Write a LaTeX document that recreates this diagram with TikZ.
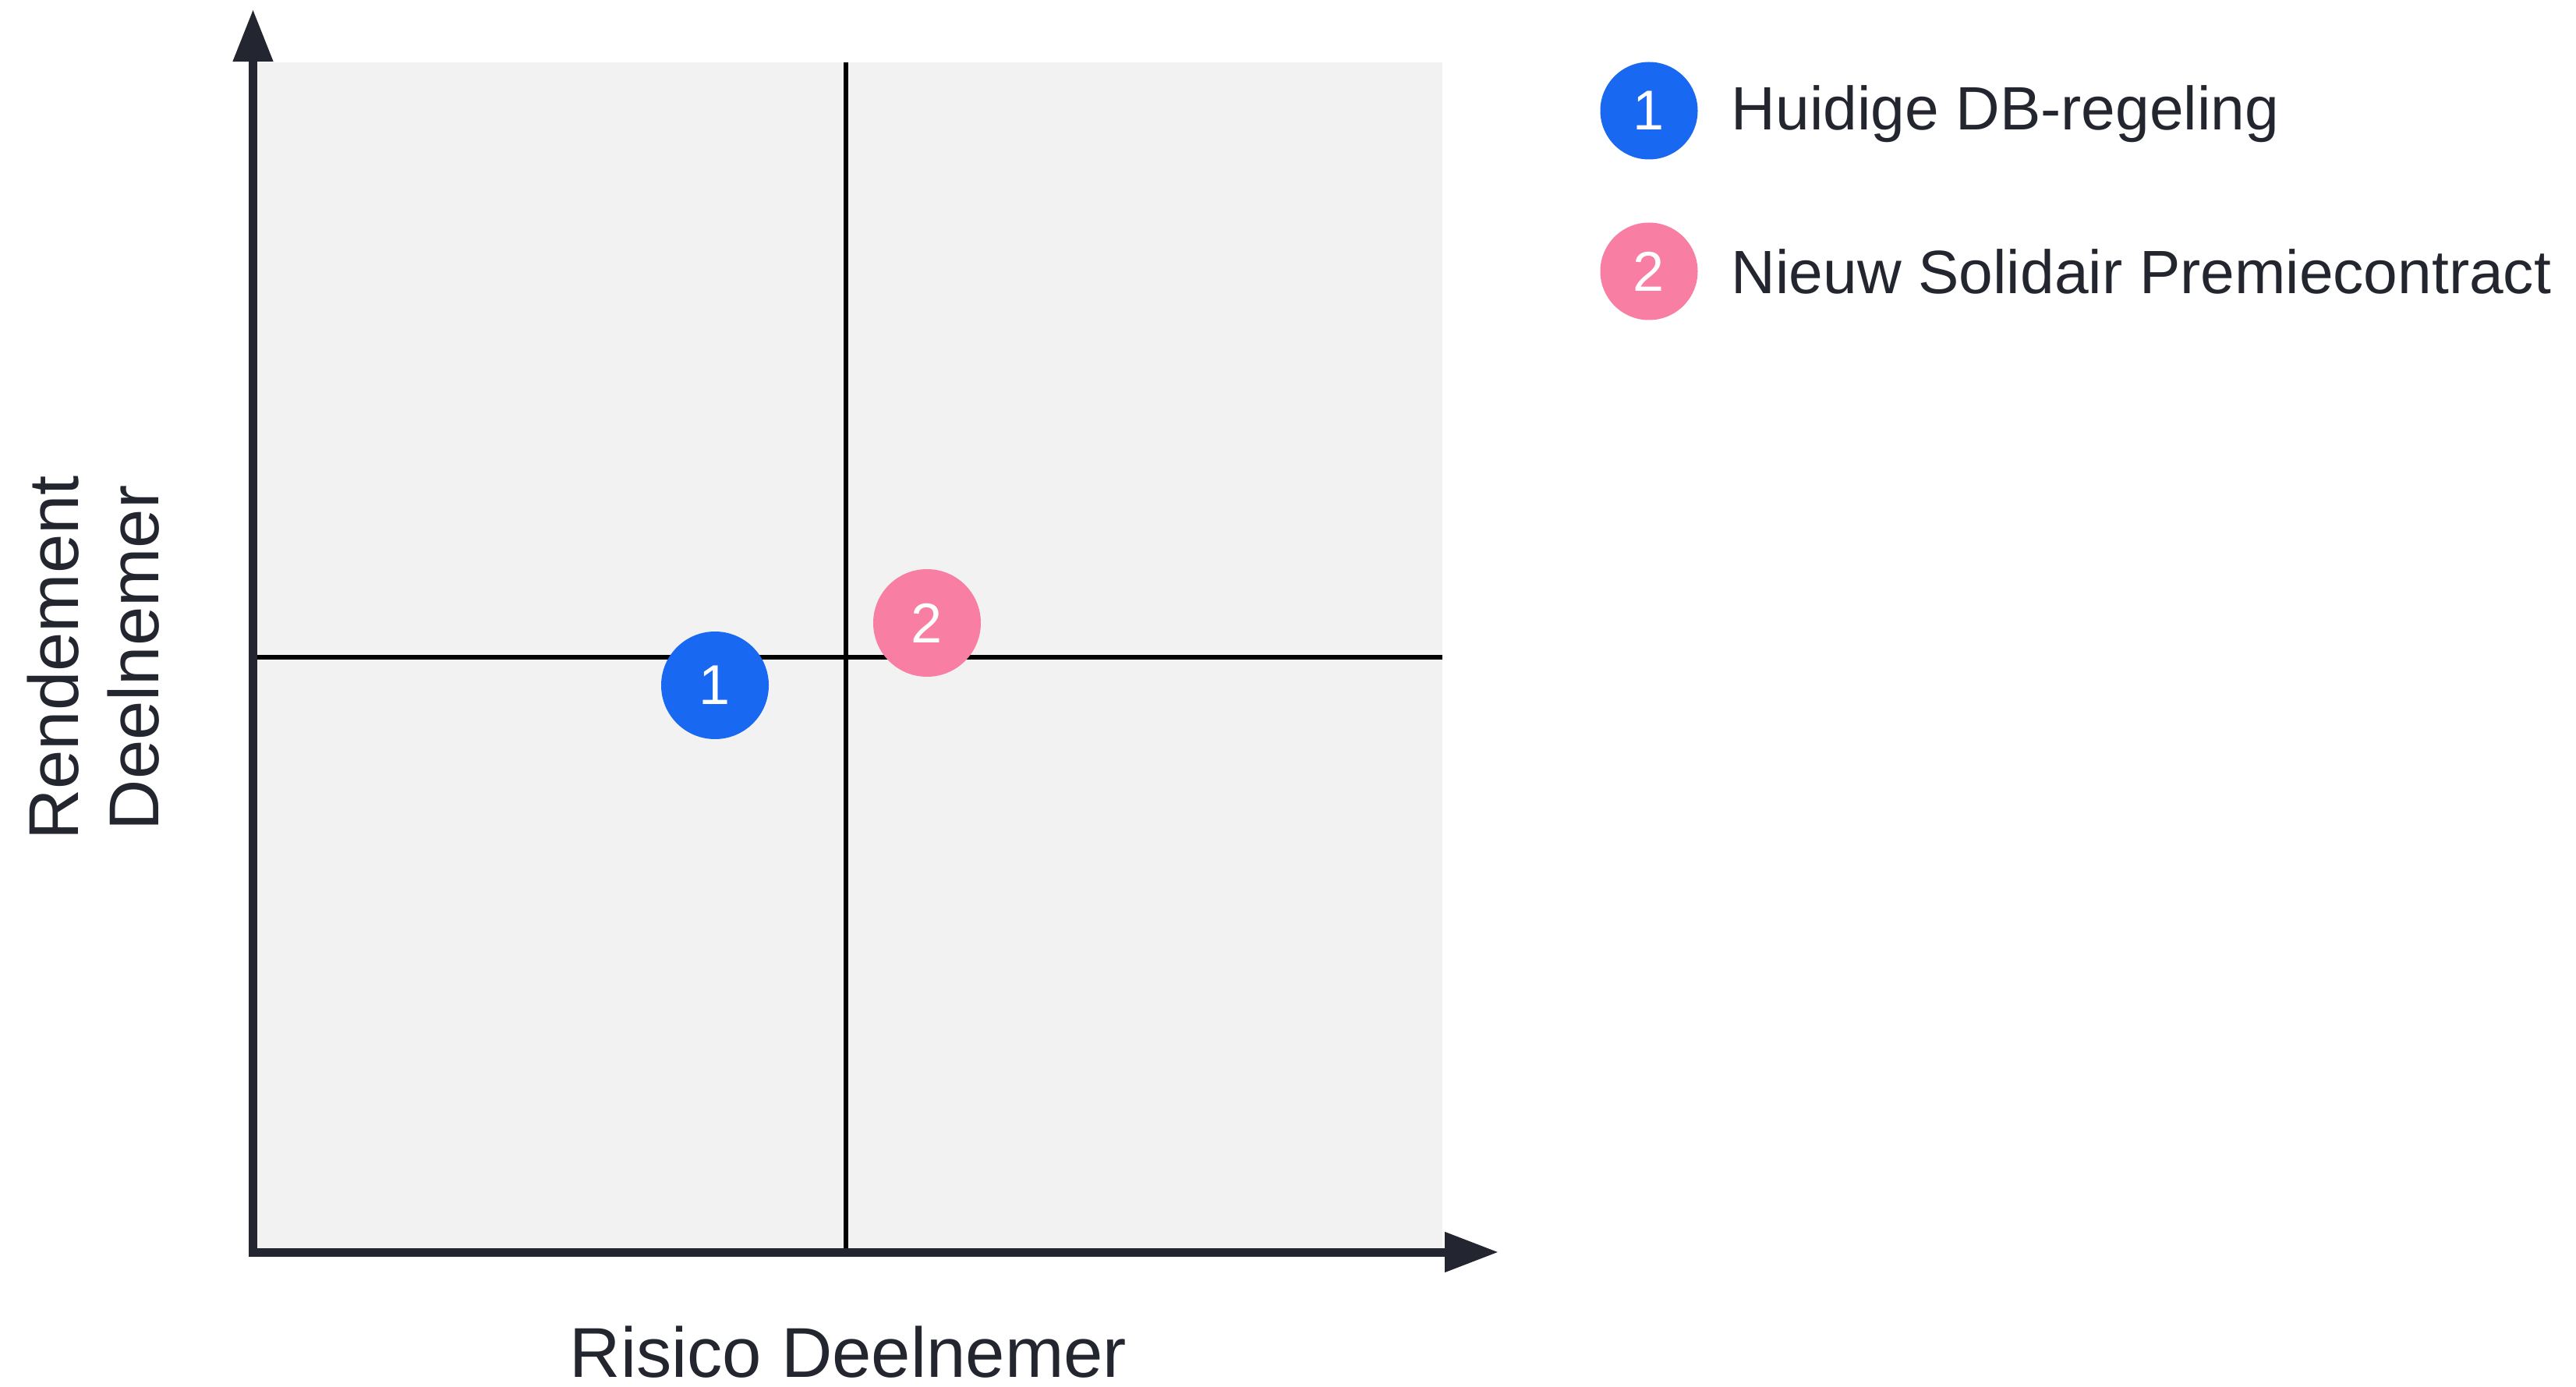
\documentclass[tikz,border=0pt]{standalone}
\usepackage{fontspec}
\setmainfont{Liberation Sans}
\usetikzlibrary{arrows.meta}
\definecolor{axiscol}{RGB}{35,38,49}
\definecolor{panel}{RGB}{242,242,242}
\definecolor{dotblue}{RGB}{24,104,242}
\definecolor{dotpink}{RGB}{248,126,164}
\definecolor{txt}{RGB}{35,38,47}
\tikzset{
  dot/.style={circle, inner sep=0pt, text=white, font=\fontsize{0.72cm}{0.8cm}\selectfont},
  bigdot/.style={dot, minimum size=1.38cm},
  legdot/.style={dot, minimum size=1.25cm},
  legtext/.style={anchor=base west, inner sep=0pt, text=txt, font=\fontsize{0.785cm}{0.9cm}\selectfont},
  axlabel/.style={anchor=base, inner sep=0pt, text=txt, font=\fontsize{0.905cm}{1.03cm}\selectfont},
  axisline/.style={draw=axiscol, line width=0.11cm, line join=miter,
    {Triangle[width=0.49cm,length=0.67cm]}-{Triangle[width=0.49cm,length=0.69cm]}},
  midline/.style={draw=black, line width=0.06cm}
}
\begin{document}
\begin{tikzpicture}
\useasboundingbox (0,0) rectangle (33.04,-17.79);
% panel
\fill[panel] (3.30,-0.80) rectangle (18.50,-16.01);
% mid lines
\coordinate (vt) at (10.85,-0.80);
\coordinate (vb) at (10.85,-16.01);
\coordinate (hl) at (3.30,-8.43);
\coordinate (hr) at (18.50,-8.43);
\draw[midline] (vt) -- (vb);
\draw[midline] (hl) -- (hr);
% axes
\coordinate (ytip) at (3.245,-0.12);
\coordinate (corner) at (3.245,-16.06);
\coordinate (xtip) at (19.22,-16.06);
\draw[axisline] (ytip) -- (corner) -- (xtip);
% points
\node[bigdot, fill=dotblue] (p1) at (9.17,-8.79) {1};
\node[bigdot, fill=dotpink] (p2) at (11.89,-7.99) {2};
% legend
\node[legdot, fill=dotblue] (l1) at (21.15,-1.42) {1};
\node[legdot, fill=dotpink] (l2) at (21.15,-3.48) {2};
\node[legtext] (t1) at (22.20,-1.67) {Huidige DB-regeling};
\node[legtext] (t2) at (22.20,-3.77) {Nieuw Solidair Premiecontract};
% axis labels
\node[axlabel] (xl) at (10.88,-17.66) {Risico Deelnemer};
\node[axlabel, rotate=90] (yl1) at (1.00,-8.44) {Rendement};
\node[axlabel, rotate=90] (yl2) at (2.03,-8.44) {Deelnemer};
\end{tikzpicture}
\end{document}
